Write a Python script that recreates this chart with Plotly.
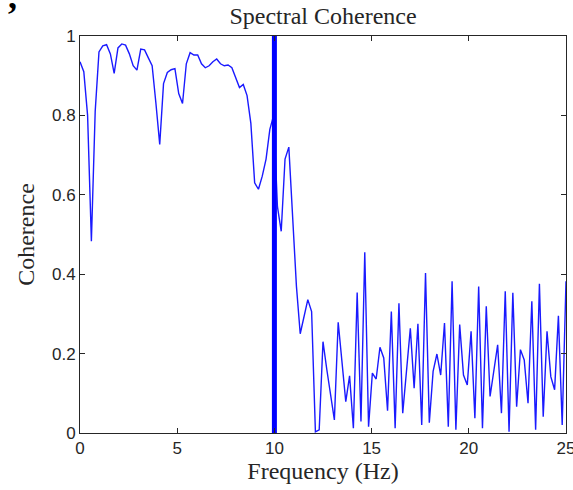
import numpy as np
import plotly.graph_objects as go

# Frequency grid (Hz) and coherence values
freq = np.linspace(0, 25, 129)
coherence = [
    0.935, 0.91, 0.80, 0.483, 0.81, 0.96, 0.975, 0.978, 0.955, 0.906,
    0.97, 0.98, 0.977, 0.955, 0.925, 0.914, 0.967, 0.965, 0.945, 0.925,
    0.83, 0.727, 0.88, 0.908, 0.915, 0.918, 0.855, 0.83, 0.93, 0.958,
    0.952, 0.952, 0.93, 0.92, 0.925, 0.935, 0.942, 0.93, 0.925, 0.927,
    0.92, 0.895, 0.87, 0.878, 0.85, 0.78, 0.63, 0.614, 0.647, 0.69,
    0.765, 0.80, 0.57, 0.508, 0.69, 0.72, 0.56, 0.37, 0.25, 0.29,
    0.336, 0.306, 0.003, 0.008, 0.23, 0.16, 0.09, 0.033, 0.279, 0.18,
    0.079, 0.144, 0.012, 0.354, 0.029, 0.455, 0.016, 0.151, 0.136, 0.216,
    0.189, 0.056, 0.306, 0.012, 0.327, 0.05, 0.16, 0.264, 0.113, 0.275,
    0.02, 0.403, 0.026, 0.155, 0.199, 0.146, 0.277, 0.016, 0.382, 0.008,
    0.273, 0.146, 0.121, 0.256, 0.037, 0.369, 0.012, 0.319, 0.092, 0.159,
    0.222, 0.05, 0.357, 0.003, 0.353, 0.066, 0.21, 0.184, 0.075, 0.332,
    0.008, 0.376, 0.041, 0.256, 0.142, 0.109, 0.295, 0.02, 0.382,
]
marker_freq = 10
marker_y = [0, 1]
x_ticks = [0, 5, 10, 15, 20, 25]
y_ticks = [0, 0.2, 0.4, 0.6, 0.8, 1]
y_ticklabels = ["0", "0.2", "0.4", "0.6", "0.8", "1"]

SERIF = "Liberation Serif, Times New Roman, serif"

fig = go.Figure()
fig.add_trace(go.Scatter(x=freq, y=coherence, mode="lines",
                         line=dict(color="#1a1aff", width=1.4),
                         showlegend=False, hoverinfo="x+y"))
fig.add_trace(go.Scatter(x=[marker_freq, marker_freq], y=marker_y, mode="lines",
                         line=dict(color="#0000ff", width=5),
                         showlegend=False, cliponaxis=False))

axis_common = dict(showline=True, linecolor="#262626", linewidth=1, mirror="ticks",
                   ticks="inside", ticklen=5, tickcolor="#262626", showgrid=False,
                   zeroline=False, automargin=False, ticklabeloverflow="allow",
                   tickfont=dict(family="Liberation Sans, Arial, sans-serif",
                                 size=17, color="#262626"))

fig.update_layout(
    width=573, height=490,
    margin=dict(l=80, r=7, t=36, b=57),
    paper_bgcolor="white", plot_bgcolor="white",
    title=dict(text="Spectral Coherence", x=0.5, xanchor="center",
               y=1 - 16 / 490, yanchor="middle", xref="paper",
               font=dict(family=SERIF, size=24, color="#262626")),
    xaxis=dict(range=[0, 25], tickvals=x_ticks,
               title=dict(text="Frequency (Hz)", standoff=4,
                          font=dict(family=SERIF, size=24, color="#262626")),
               **axis_common),
    yaxis=dict(range=[0, 1], tickvals=y_ticks, ticktext=y_ticklabels,
               title=dict(text="Coherence", standoff=10,
                          font=dict(family=SERIF, size=24, color="#262626")),
               **axis_common),
    annotations=[dict(text="<b>,</b>", x=-0.152, y=1.046, xref="paper", yref="paper",
                      xanchor="left", yanchor="bottom", showarrow=False,
                      font=dict(family=SERIF, size=36, color="black"))],
)

fig.write_html("out.html", config={"displayModeBar": False},
               post_script="document.body.style.margin='0px';")
